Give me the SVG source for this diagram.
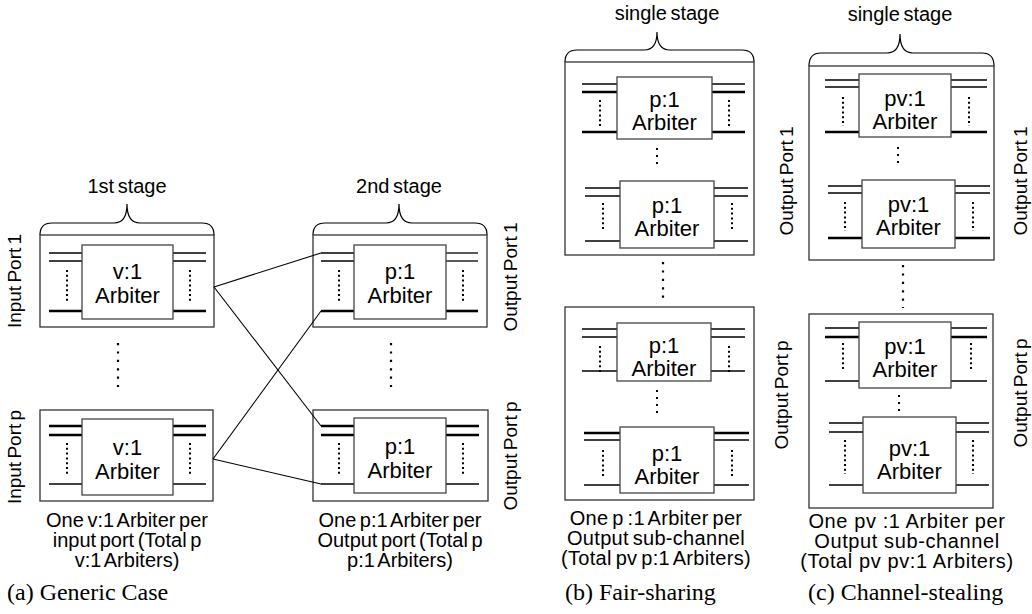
<svg xmlns="http://www.w3.org/2000/svg" width="1032" height="614" viewBox="0 0 1032 614">
<style>
.ob{fill:none;stroke:#333;stroke-width:1.3}
.ib{fill:#fff;stroke:#444;stroke-width:1.3}
.tn{stroke:#000;stroke-width:1.3}
.tk{stroke:#000;stroke-width:2.6}
.dt{stroke:#000;stroke-width:2;stroke-dasharray:2 2.8}
.sd{stroke:#000;stroke-width:2;stroke-dasharray:2 5}
.dd{stroke:#000;stroke-width:2.2;stroke-dasharray:2.2 6.2}
.br{fill:none;stroke:#000;stroke-width:1.2}
.cn{stroke:#000;stroke-width:1.1;fill:none}
text{font-family:"Liberation Sans",Arial,sans-serif;fill:#000}
.ar{font-size:22px;text-anchor:middle}
.st{font-size:20px;text-anchor:middle;word-spacing:-2px}
.pl{font-size:19px;text-anchor:middle;word-spacing:-2px}
.lb{font-size:20px;text-anchor:middle;word-spacing:-2px}
.lc{font-size:20px;text-anchor:middle;word-spacing:-2px;letter-spacing:0.3px}
.ld{font-size:20px;text-anchor:middle;letter-spacing:0.6px}
.cap{font-family:"Liberation Serif","Times New Roman",serif;font-size:24px}
</style>

<!-- ===== Panel (a) ===== -->
<g id="a-stage1-label">
<text class="st" x="127" y="193">1st stage</text>
<path class="br" d="M40,235 Q40,223 52,223 L114,223 Q127,223 127,204 Q127,223 140,223 L202,223 Q214,223 214,235"/>
</g>
<g id="a-stage2-label">
<text class="st" x="399" y="193">2nd stage</text>
<path class="br" d="M313,235 Q313,223 325,223 L386,223 Q399,223 399,204 Q399,223 412,223 L475,223 Q487,223 487,235"/>
</g>

<g id="a-input1">
<rect class="ob" x="40" y="235" width="174" height="92"/>
<line class="tn" x1="49" y1="253" x2="82" y2="253"/><line class="tn" x1="49" y1="261" x2="82" y2="261"/><line class="tk" x1="49" y1="311" x2="82" y2="311"/>
<line class="tn" x1="173" y1="253" x2="206" y2="253"/><line class="tn" x1="173" y1="261" x2="206" y2="261"/><line class="tk" x1="173" y1="311" x2="206" y2="311"/>
<line class="dt" x1="67" y1="270" x2="67" y2="301"/><line class="dt" x1="190" y1="270" x2="190" y2="301"/>
<rect class="ib" x="82" y="245" width="91" height="74"/>
<text class="ar" x="127.5" y="279">v:1</text><text class="ar" x="127.5" y="303">Arbiter</text>
<text class="pl" transform="translate(21,281) rotate(-90)">Input Port 1</text>
</g>

<g id="a-inputp">
<rect class="ob" x="40" y="410" width="173" height="91"/>
<line class="tk" x1="49" y1="426" x2="82" y2="426"/><line class="tk" x1="49" y1="435" x2="82" y2="435"/><line class="tn" x1="49" y1="484" x2="82" y2="484"/>
<line class="tk" x1="173" y1="426" x2="206" y2="426"/><line class="tk" x1="173" y1="435" x2="206" y2="435"/><line class="tn" x1="173" y1="484" x2="206" y2="484"/>
<line class="dt" x1="67" y1="443" x2="67" y2="474"/><line class="dt" x1="190" y1="443" x2="190" y2="474"/>
<rect class="ib" x="82" y="419" width="91" height="76"/>
<text class="ar" x="127.5" y="455">v:1</text><text class="ar" x="127.5" y="479">Arbiter</text>
<text class="pl" transform="translate(21,457) rotate(-90)">Input Port p</text>
</g>

<g id="a-output1">
<rect class="ob" x="313" y="235" width="174" height="92"/>
<line class="tn" x1="321" y1="253" x2="354" y2="253"/><line class="tn" x1="321" y1="261" x2="354" y2="261"/><line class="tk" x1="321" y1="311" x2="354" y2="311"/>
<line class="tn" x1="446" y1="253" x2="478" y2="253"/><line class="tn" x1="446" y1="261" x2="478" y2="261"/><line class="tk" x1="446" y1="311" x2="478" y2="311"/>
<line class="dt" x1="339" y1="270" x2="339" y2="301"/><line class="dt" x1="463" y1="270" x2="463" y2="301"/>
<rect class="ib" x="354" y="245" width="92" height="74"/>
<text class="ar" x="400" y="279">p:1</text><text class="ar" x="400" y="303">Arbiter</text>
<text class="pl" transform="translate(517,277) rotate(-90)">Output Port 1</text>
</g>

<g id="a-outputp">
<rect class="ob" x="313" y="410" width="175" height="91"/>
<line class="tk" x1="321" y1="426" x2="354" y2="426"/><line class="tk" x1="321" y1="435" x2="354" y2="435"/><line class="tn" x1="321" y1="484" x2="354" y2="484"/>
<line class="tk" x1="446" y1="426" x2="479" y2="426"/><line class="tk" x1="446" y1="435" x2="479" y2="435"/><line class="tn" x1="446" y1="484" x2="479" y2="484"/>
<line class="dt" x1="339" y1="443" x2="339" y2="474"/><line class="dt" x1="463" y1="443" x2="463" y2="474"/>
<rect class="ib" x="354" y="418" width="92" height="75"/>
<text class="ar" x="400" y="454">p:1</text><text class="ar" x="400" y="478">Arbiter</text>
<text class="pl" transform="translate(517,456) rotate(-90)">Output Port p</text>
</g>

<g id="a-ellipses">
<line class="dd" x1="118" y1="343" x2="118" y2="387"/>
<line class="dd" x1="391" y1="343" x2="391" y2="387"/>
</g>

<g id="connectors">
<line class="cn" x1="214" y1="287" x2="321" y2="253"/>
<line class="cn" x1="214" y1="287" x2="321" y2="426"/>
<line class="cn" x1="213" y1="459" x2="321" y2="311"/>
<line class="cn" x1="213" y1="459" x2="321" y2="484"/>
</g>

<g id="a-text">
<text class="lb" x="127" y="527">One v:1 Arbiter per</text>
<text class="lb" x="127" y="547">input port (Total p</text>
<text class="lb" x="127" y="567">v:1 Arbiters)</text>
<text class="lb" x="400" y="527">One p:1 Arbiter per</text>
<text class="lb" x="400" y="547">Output port (Total p</text>
<text class="lb" x="400" y="567">p:1 Arbiters)</text>
<text class="cap" x="7" y="600">(a) Generic Case</text>
</g>

<!-- ===== Panel (b) ===== -->
<g id="b-stage-label">
<text class="st" x="667" y="20">single stage</text>
<path class="br" d="M565,62 Q565,50 577,50 L644,50 Q657,50 657,32 Q657,50 670,50 L742,50 Q754,50 754,62"/>
</g>

<g id="b-output1">
<rect class="ob" x="565" y="62" width="189" height="193"/>
<g id="b-o1-arb1">
<line class="tn" x1="582" y1="84" x2="617" y2="84"/><line class="tk" x1="582" y1="92" x2="617" y2="92"/><line class="tk" x1="582" y1="132" x2="617" y2="132"/>
<line class="tn" x1="712" y1="84" x2="745" y2="84"/><line class="tk" x1="712" y1="92" x2="745" y2="92"/><line class="tk" x1="712" y1="132" x2="745" y2="132"/>
<line class="dt" x1="600" y1="100" x2="600" y2="128"/><line class="dt" x1="729" y1="100" x2="729" y2="128"/>
<rect class="ib" x="617" y="77" width="95" height="62"/>
<text class="ar" x="664.5" y="107">p:1</text><text class="ar" x="664.5" y="130">Arbiter</text>
</g>
<line class="sd" x1="657" y1="148" x2="657" y2="168"/>
<g id="b-o1-arb2">
<line class="tn" x1="585" y1="188" x2="620" y2="188"/><line class="tn" x1="585" y1="196" x2="620" y2="196"/><line class="tn" x1="585" y1="241" x2="620" y2="241"/>
<line class="tn" x1="714" y1="188" x2="748" y2="188"/><line class="tn" x1="714" y1="196" x2="748" y2="196"/><line class="tn" x1="714" y1="241" x2="748" y2="241"/>
<line class="dt" x1="603" y1="203" x2="603" y2="231"/><line class="dt" x1="732" y1="203" x2="732" y2="231"/>
<rect class="ib" x="620" y="181" width="94" height="67"/>
<text class="ar" x="667" y="213">p:1</text><text class="ar" x="667" y="236">Arbiter</text>
</g>
<text class="pl" transform="translate(793,181) rotate(-90)">Output Port 1</text>
</g>

<line class="dd" x1="663" y1="262" x2="663" y2="300"/>

<g id="b-outputp">
<rect class="ob" x="565" y="307" width="189" height="193"/>
<g id="b-op-arb1">
<line class="tn" x1="582" y1="329" x2="617" y2="329"/><line class="tn" x1="582" y1="337" x2="617" y2="337"/><line class="tn" x1="582" y1="371" x2="617" y2="371"/>
<line class="tn" x1="711" y1="329" x2="745" y2="329"/><line class="tn" x1="711" y1="337" x2="745" y2="337"/><line class="tn" x1="711" y1="371" x2="745" y2="371"/>
<line class="dt" x1="600" y1="346" x2="600" y2="373"/><line class="dt" x1="729" y1="346" x2="729" y2="373"/>
<rect class="ib" x="617" y="323" width="94" height="58"/>
<text class="ar" x="664" y="353">p:1</text><text class="ar" x="664" y="376">Arbiter</text>
</g>
<line class="sd" x1="657" y1="390" x2="657" y2="414"/>
<g id="b-op-arb2">
<line class="tk" x1="584" y1="433" x2="620" y2="433"/><line class="tn" x1="584" y1="440" x2="620" y2="440"/><line class="tn" x1="584" y1="485" x2="620" y2="485"/>
<line class="tk" x1="714" y1="433" x2="749" y2="433"/><line class="tn" x1="714" y1="440" x2="749" y2="440"/><line class="tn" x1="714" y1="485" x2="749" y2="485"/>
<line class="dt" x1="603" y1="450" x2="603" y2="476"/><line class="dt" x1="732" y1="450" x2="732" y2="476"/>
<rect class="ib" x="620" y="427" width="94" height="66"/>
<text class="ar" x="667" y="461">p:1</text><text class="ar" x="667" y="484">Arbiter</text>
</g>
<text class="pl" transform="translate(788,395) rotate(-90)">Output Port p</text>
</g>

<g id="b-text">
<text class="lc" x="656" y="525">One p :1 Arbiter per</text>
<text class="lc" x="656" y="545">Output sub-channel</text>
<text class="lc" x="656" y="565">(Total pv p:1 Arbiters)</text>
<text class="cap" x="565" y="600">(b) Fair-sharing</text>
</g>

<!-- ===== Panel (c) ===== -->
<g id="c-stage-label">
<text class="st" x="900" y="21">single stage</text>
<path class="br" d="M809,66 Q809,53 821,53 L887,53 Q900,53 900,34 Q900,53 913,53 L982,53 Q994,53 994,66"/>
</g>

<g id="c-output1">
<rect class="ob" x="809" y="66" width="185" height="194"/>
<g id="c-o1-arb1">
<line class="tn" x1="825" y1="80" x2="859" y2="80"/><line class="tn" x1="825" y1="87" x2="859" y2="87"/><line class="tk" x1="825" y1="132" x2="859" y2="132"/>
<line class="tn" x1="951" y1="80" x2="987" y2="80"/><line class="tn" x1="951" y1="87" x2="987" y2="87"/><line class="tk" x1="951" y1="132" x2="987" y2="132"/>
<line class="dt" x1="843" y1="97" x2="843" y2="126"/><line class="dt" x1="969" y1="97" x2="969" y2="126"/>
<rect class="ib" x="859" y="74" width="92" height="63"/>
<text class="ar" x="905" y="106">pv:1</text><text class="ar" x="905" y="129">Arbiter</text>
</g>
<line class="sd" x1="898" y1="147" x2="898" y2="166"/>
<g id="c-o1-arb2">
<line class="tn" x1="828" y1="186" x2="862" y2="186"/><line class="tn" x1="828" y1="193" x2="862" y2="193"/><line class="tk" x1="828" y1="238" x2="862" y2="238"/>
<line class="tn" x1="955" y1="186" x2="990" y2="186"/><line class="tn" x1="955" y1="193" x2="990" y2="193"/><line class="tk" x1="955" y1="238" x2="990" y2="238"/>
<line class="dt" x1="845" y1="202" x2="845" y2="231"/><line class="dt" x1="973" y1="202" x2="973" y2="231"/>
<rect class="ib" x="862" y="180" width="93" height="68"/>
<text class="ar" x="908.5" y="212">pv:1</text><text class="ar" x="908.5" y="235">Arbiter</text>
</g>
<text class="pl" transform="translate(1027,181) rotate(-90)">Output Port 1</text>
</g>

<line class="dd" x1="903" y1="265" x2="903" y2="308"/>

<g id="c-outputp">
<rect class="ob" x="809" y="314" width="184" height="194"/>
<g id="c-op-arb1">
<line class="tn" x1="825" y1="328" x2="859" y2="328"/><line class="tk" x1="825" y1="337" x2="859" y2="337"/><line class="tn" x1="825" y1="381" x2="859" y2="381"/>
<line class="tn" x1="951" y1="328" x2="987" y2="328"/><line class="tk" x1="951" y1="337" x2="987" y2="337"/><line class="tn" x1="951" y1="381" x2="987" y2="381"/>
<line class="dt" x1="843" y1="343" x2="843" y2="371"/><line class="dt" x1="971" y1="343" x2="971" y2="371"/>
<rect class="ib" x="859" y="322" width="92" height="66"/>
<text class="ar" x="905" y="354">pv:1</text><text class="ar" x="905" y="377">Arbiter</text>
</g>
<line class="sd" x1="899" y1="395" x2="899" y2="414"/>
<g id="c-op-arb2">
<line class="tn" x1="829" y1="423" x2="863" y2="423"/><line class="tn" x1="829" y1="432" x2="863" y2="432"/><line class="tn" x1="829" y1="485" x2="863" y2="485"/>
<line class="tn" x1="956" y1="423" x2="989" y2="423"/><line class="tn" x1="956" y1="432" x2="989" y2="432"/><line class="tn" x1="956" y1="485" x2="989" y2="485"/>
<line class="dt" x1="845" y1="440" x2="845" y2="474"/><line class="dt" x1="973" y1="440" x2="973" y2="474"/>
<rect class="ib" x="863" y="417" width="93" height="76"/>
<text class="ar" x="909.5" y="456">pv:1</text><text class="ar" x="909.5" y="479">Arbiter</text>
</g>
<text class="pl" transform="translate(1027,393) rotate(-90)">Output Port p</text>
</g>

<g id="c-text">
<text class="ld" x="907" y="528">One pv :1 Arbiter per</text>
<text class="ld" x="907" y="548">Output sub-channel</text>
<text class="ld" x="907" y="568">(Total pv pv:1 Arbiters)</text>
<text class="cap" x="808" y="600">(c) Channel-stealing</text>
</g>
</svg>
